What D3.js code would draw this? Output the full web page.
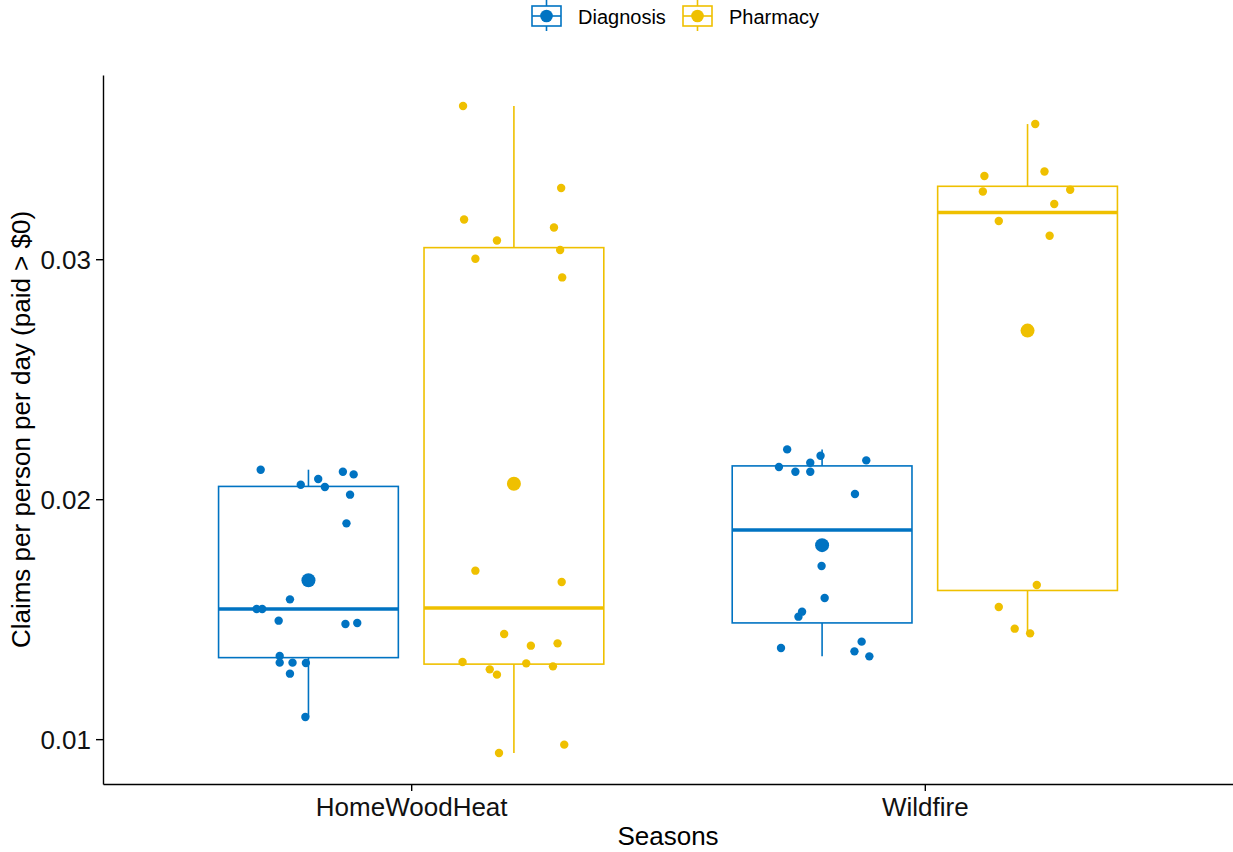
<!DOCTYPE html>
<html>
<head>
<meta charset="utf-8">
<script src="https://cdn.jsdelivr.net/npm/d3@7"></script>
<style>
  html, body { margin: 0; padding: 0; background: #fff; }
  svg { display: block; font-family: "Liberation Sans", Arial, sans-serif; }
</style>
</head>
<body>
<svg id="chart" width="1233" height="852"></svg>
<script>
// ---- data ----
const categories = ["HomeWoodHeat", "Wildfire"];
const groups = ["Diagnosis", "Pharmacy"];
const colors = ["#0073C2", "#EFC000"];
const yTicks = [0.01, 0.02, 0.03];

// claims per person per day, one array per season x group
const diagnosisHomeWoodHeat = [0.021229, 0.020604, 0.020842, 0.020508, 0.021146, 0.021033, 0.020188, 0.018992,
  0.015825, 0.015425, 0.015425, 0.014938, 0.014800, 0.014842, 0.013467, 0.013188, 0.013188, 0.013175, 0.012729, 0.010925];
const diagnosisHomeWoodHeatJitter = [-0.093, -0.015, 0.019, 0.032, 0.067, 0.088, 0.081, 0.074,
  -0.036, -0.101, -0.090, -0.058, 0.072, 0.095, -0.056, -0.056, -0.031, -0.005, -0.036, -0.006];

const pharmacyHomeWoodHeat = [0.036383, 0.032967, 0.031658, 0.031325, 0.030783, 0.030383, 0.030021, 0.029242,
  0.017021, 0.016550, 0.014383, 0.013896, 0.013992, 0.013217, 0.012908, 0.012688, 0.013158, 0.013033, 0.009425, 0.009771];
const pharmacyHomeWoodHeatJitter = [-0.099, 0.092, -0.097, 0.078, -0.033, 0.090, -0.075, 0.094,
  -0.075, 0.093, -0.019, 0.033, 0.085, -0.100, -0.047, -0.033, 0.024, 0.076, -0.029, 0.098];

const diagnosisWildfire = [0.022075, 0.021813, 0.021521, 0.021617, 0.021342, 0.021146, 0.021146, 0.020217,
  0.017217, 0.015883, 0.015313, 0.015104, 0.013800, 0.014063, 0.013658, 0.013450];
const diagnosisWildfireJitter = [-0.068, -0.003, -0.023, 0.086, -0.084, -0.052, -0.023, 0.064,
  -0.001, 0.005, -0.039, -0.046, -0.080, 0.077, 0.063, 0.092];

const pharmacyWildfire = [0.035633, 0.033658, 0.033467, 0.032825, 0.032896, 0.032300, 0.031592, 0.030979,
  0.016425, 0.015508, 0.014604, 0.014408];
const pharmacyWildfireJitter = [0.015, 0.033, -0.084, -0.087, 0.083, 0.052, -0.056, 0.043,
  0.018, -0.056, -0.025, 0.005];

const series = [
  { cat: "HomeWoodHeat", group: "Diagnosis", values: diagnosisHomeWoodHeat, jitter: diagnosisHomeWoodHeatJitter },
  { cat: "HomeWoodHeat", group: "Pharmacy", values: pharmacyHomeWoodHeat, jitter: pharmacyHomeWoodHeatJitter },
  { cat: "Wildfire", group: "Diagnosis", values: diagnosisWildfire, jitter: diagnosisWildfireJitter },
  { cat: "Wildfire", group: "Pharmacy", values: pharmacyWildfire, jitter: pharmacyWildfireJitter }
];

// ---- layout ----
const W = 1233, H = 852;
const margin = { top: 75, right: 0, bottom: 68, left: 103 };
const svg = d3.select("#chart");

const allVals = series.flatMap(s => s.values);
const [vmin, vmax] = d3.extent(allVals);
const pad = (vmax - vmin) * 0.048;

const y = d3.scaleLinear().domain([vmin - pad, vmax + pad]).range([H - margin.bottom, margin.top]);
const x = d3.scalePoint().domain(categories).range([margin.left, W - margin.right]).padding(0.6);
const step = x.step();
const color = d3.scaleOrdinal().domain(groups).range(colors);
const dodge = d3.scaleOrdinal().domain(groups).range([-0.2, 0.2]);
const boxW = 0.35 * step;

// stats
series.forEach(s => {
  const v = s.values.slice().sort(d3.ascending);
  s.q1 = d3.quantileSorted(v, 0.25);
  s.med = d3.quantileSorted(v, 0.5);
  s.q3 = d3.quantileSorted(v, 0.75);
  const iqr = s.q3 - s.q1;
  s.lo = d3.min(v.filter(d => d >= s.q1 - 1.5 * iqr));
  s.hi = d3.max(v.filter(d => d <= s.q3 + 1.5 * iqr));
  s.mean = d3.mean(v);
  s.cx = x(s.cat) + dodge(s.group) * step;
});

const plot = svg.append("g");

// boxplots
const boxes = plot.selectAll("g.box").data(series).join("g").attr("class", "box");
boxes.each(function(s) {
  const g = d3.select(this);
  const c = color(s.group);
  g.append("line").attr("x1", s.cx).attr("x2", s.cx).attr("y1", y(s.q3)).attr("y2", y(s.hi))
    .attr("stroke", c).attr("stroke-width", 1.6);
  g.append("line").attr("x1", s.cx).attr("x2", s.cx).attr("y1", y(s.q1)).attr("y2", y(s.lo))
    .attr("stroke", c).attr("stroke-width", 1.6);
  g.append("rect").attr("x", s.cx - boxW / 2).attr("width", boxW)
    .attr("y", y(s.q3)).attr("height", y(s.q1) - y(s.q3))
    .attr("fill", "#fff").attr("stroke", c).attr("stroke-width", 1.6);
  g.append("line").attr("x1", s.cx - boxW / 2).attr("x2", s.cx + boxW / 2)
    .attr("y1", y(s.med)).attr("y2", y(s.med)).attr("stroke", c).attr("stroke-width", 3.6);
});

// jittered points
boxes.each(function(s) {
  const g = d3.select(this);
  g.selectAll("circle.pt").data(s.values.map((v, i) => ({ v, j: s.jitter[i] })))
    .join("circle").attr("class", "pt")
    .attr("cx", d => s.cx + d.j * step).attr("cy", d => y(d.v))
    .attr("r", 4.2).attr("fill", color(s.group));
});

// means
boxes.append("circle").attr("cx", s => s.cx).attr("cy", s => y(s.mean))
  .attr("r", 7).attr("fill", s => color(s.group));

// axes
const yAxis = svg.append("g").attr("transform", `translate(${margin.left},0)`)
  .call(d3.axisLeft(y).tickValues(yTicks).tickFormat(d3.format(".2f")).tickSize(7).tickSizeOuter(0).tickPadding(5));
const xAxis = svg.append("g").attr("transform", `translate(0,${H - margin.bottom})`)
  .call(d3.axisBottom(x).tickSize(7).tickSizeOuter(0).tickPadding(5));
[yAxis, xAxis].forEach(a => {
  a.select(".domain").attr("stroke", "#000").attr("stroke-width", 1.4);
  a.selectAll(".tick line").attr("stroke", "#000").attr("stroke-width", 1.4);
  a.selectAll(".tick text").attr("fill", "#111").style("font-size", "26px")
    .style("font-family", "'Liberation Sans', Arial, sans-serif");
});
yAxis.selectAll(".tick text").attr("dy", "0.36em");
xAxis.selectAll(".tick text").attr("dy", "20px");

// axis titles
svg.append("text").attr("x", (margin.left + W - margin.right) / 2).attr("y", 845)
  .attr("text-anchor", "middle").style("font-size", "26px").attr("fill", "#000").text("Seasons");
svg.append("text").attr("transform", `translate(30,${(margin.top + H - margin.bottom) / 2}) rotate(-90)`)
  .attr("text-anchor", "middle").style("font-size", "26px").attr("fill", "#000")
  .text("Claims per person per day (paid > $0)");

// legend
const legendX = [532, 683];
const leg = svg.append("g").selectAll("g").data(groups).join("g")
  .attr("transform", (d, i) => `translate(${legendX[i]},0)`);
leg.append("line").attr("x1", 14.5).attr("x2", 14.5).attr("y1", 0).attr("y2", 31)
  .attr("stroke", d => color(d)).attr("stroke-width", 1.6);
leg.append("rect").attr("x", 0).attr("y", 6).attr("width", 29).attr("height", 20)
  .attr("fill", "#fff").attr("stroke", d => color(d)).attr("stroke-width", 1.6);
leg.append("line").attr("x1", 0).attr("x2", 29).attr("y1", 16).attr("y2", 16)
  .attr("stroke", d => color(d)).attr("stroke-width", 1.6);
leg.append("circle").attr("cx", 14.5).attr("cy", 16).attr("r", 6.3).attr("fill", d => color(d));
leg.append("text").attr("x", 46).attr("y", 17).attr("dy", "0.36em")
  .style("font-size", "20px").attr("fill", "#000").text(d => d);
</script>
</body>
</html>
